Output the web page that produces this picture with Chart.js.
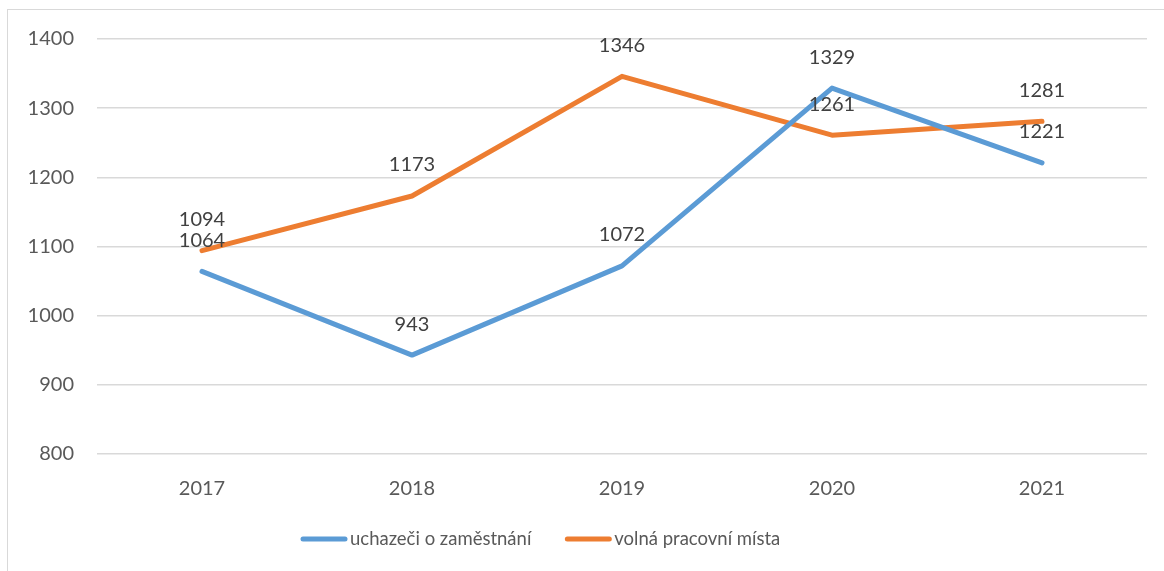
<!DOCTYPE html>
<html>
<head>
<meta charset="utf-8">
<script src="https://cdn.jsdelivr.net/npm/chart.js@4/dist/chart.umd.min.js"></script>
<style>
  html, body { margin: 0; padding: 0; background: #fff; overflow: hidden; }
  #wrap { position: relative; width: 1164px; height: 571px; }
  #frame { position: absolute; left: 7px; top: 9px; width: 1300px; height: 700px; border: 1.5px solid #D9D9D9; box-sizing: border-box; }
  canvas { position: absolute; left: 0; top: 0; }
</style>
</head>
<body>
<div id="wrap">
  <div id="frame"></div>
  <canvas id="c" width="1164" height="571"></canvas>
</div>
<script>
const categories = ['2017', '2018', '2019', '2020', '2021'];
const seriesNames = ['uchazeči o zaměstnání', 'volná pracovní místa'];
const uchazeci = [1064, 943, 1072, 1329, 1221];
const volnaMista = [1094, 1173, 1346, 1261, 1281];
const yTicks = [800, 900, 1000, 1100, 1200, 1300, 1400];

const FONT = 'Lato, "Open Sans", sans-serif';
const FS = 20;

const labelsPlugin = {
  id: 'valueLabels',
  afterDatasetsDraw(chart) {
    const ctx = chart.ctx;
    ctx.save();
    ctx.font = FS + 'px ' + FONT;
    ctx.fillStyle = '#404040';
    ctx.textAlign = 'center';
    ctx.textBaseline = 'middle';
    chart.data.datasets.forEach((ds, i) => {
      const meta = chart.getDatasetMeta(i);
      meta.data.forEach((pt, j) => {
        ctx.fillText(String(ds.data[j]), pt.x, pt.y - 31);
      });
    });
    ctx.restore();
  }
};

const legendPlugin = {
  id: 'customLegend',
  afterDraw(chart) {
    const ctx = chart.ctx;
    ctx.save();
    ctx.font = '18.5px ' + FONT;
    ctx.textBaseline = 'middle';
    ctx.textAlign = 'left';
    let x = 303;
    const y = 539;
    chart.data.datasets.forEach((ds) => {
      ctx.strokeStyle = ds.borderColor;
      ctx.lineWidth = 5;
      ctx.lineCap = 'round';
      ctx.beginPath();
      ctx.moveTo(x, y);
      ctx.lineTo(x + 42, y);
      ctx.stroke();
      x += 47;
      ctx.fillStyle = '#595959';
      ctx.fillText(ds.label, x, y);
      x += ctx.measureText(ds.label).width + 36;
    });
    ctx.restore();
  }
};

new Chart(document.getElementById('c'), {
  type: 'line',
  data: {
    labels: categories,
    datasets: [
      { label: seriesNames[0], data: uchazeci, borderColor: '#5B9BD5', backgroundColor: '#5B9BD5', borderWidth: 5, pointRadius: 0, borderCapStyle: 'round', borderJoinStyle: 'round', tension: 0 },
      { label: seriesNames[1], data: volnaMista, borderColor: '#ED7D31', backgroundColor: '#ED7D31', borderWidth: 5, pointRadius: 0, borderCapStyle: 'round', borderJoinStyle: 'round', tension: 0 }
    ]
  },
  options: {
    responsive: false,
    animation: false,
    events: [],
    layout: { padding: { left: 0, right: 17, top: 39, bottom: 67 } },
    plugins: { legend: { display: false }, tooltip: { enabled: false } },
    scales: {
      x: {
        offset: true,
        grid: { display: false, drawTicks: false },
        border: { display: false },
        ticks: { color: '#595959', font: { family: FONT, size: FS }, padding: 23, maxRotation: 0 },
        afterFit(scale) { scale.height = 50; }
      },
      y: {
        min: 800,
        max: 1400,
        afterBuildTicks(scale) { scale.ticks = yTicks.map(v => ({ value: v })); },
        grid: { color: '#D9D9D9', lineWidth: 1.5, drawTicks: false },
        border: { display: false },
        ticks: { color: '#595959', font: { family: FONT, size: FS }, padding: 23, callback: (v) => String(v) },
        afterFit(scale) { scale.width = 97; }
      }
    }
  },
  plugins: [labelsPlugin, legendPlugin]
});
</script>
</body>
</html>
